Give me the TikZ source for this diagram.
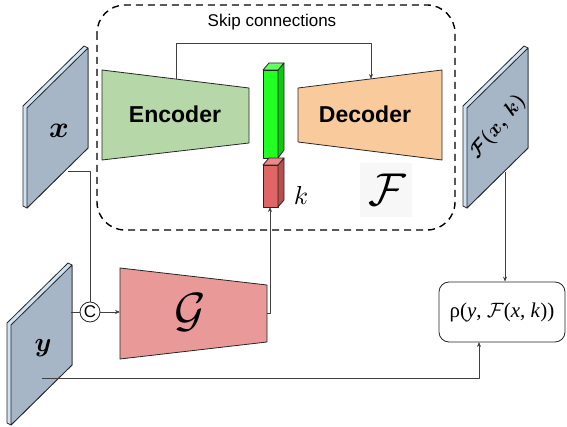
\documentclass[tikz,border=0pt]{standalone}
\usepackage{amsmath}
\usepackage{fontspec}
\setmainfont{Liberation Serif}
\setsansfont{Liberation Sans}
\usetikzlibrary{arrows.meta,calc}
\definecolor{planeface}{HTML}{A6B6C6}
\definecolor{planeside}{HTML}{CFE2F3}
\definecolor{encfill}{HTML}{B6D7A8}
\definecolor{decfill}{HTML}{F9CB9C}
\definecolor{gfill}{HTML}{EA9999}
\definecolor{grfront}{HTML}{22FF22}
\definecolor{grside}{HTML}{11C811}
\definecolor{grtop}{HTML}{66FF66}
\definecolor{rdfront}{HTML}{E06666}
\definecolor{rdside}{HTML}{B84F4F}
\definecolor{rdtop}{HTML}{EE8888}
\newcommand\myplane[2]{%
  \begin{scope}[shift={(#1,#2)}]
    \draw[block,fill=planeside] (-4,-2) -- (57,-62) -- (61,-60) -- (61,40) -- (0,100) -- (-4,98) -- cycle;
    \draw[block,fill=planeface] (0,0) -- (61,-60) -- (61,40) -- (0,100) -- cycle;
  \end{scope}}
\begin{document}
\begin{tikzpicture}[x=1pt,y=-1pt,line join=round,
  conn/.style={draw=black!75,line width=0.8pt},
  arr/.style={-{Stealth[length=5pt,width=4pt]}},
  block/.style={draw=black!85,line width=0.8pt},
  dashbox/.style={draw=black,line width=1.4pt,dash pattern=on 7pt off 5pt,rounded corners=28pt},
  blocklabel/.style={font=\sffamily\bfseries\fontsize{23}{26}\selectfont},
  mathlab/.style={font=\fontsize{10}{12}\selectfont,inner sep=0pt}]
\useasboundingbox (0,0) rectangle (567,427);
% dashed region
\draw[dashbox] (97,5) rectangle (455,230);
% planes
\myplane{27}{108}
\myplane{11}{325}
\myplane{467}{108}
\node[mathlab,scale=3.0] (xlab) at (59,131) {$\boldsymbol{x}$};
\node[mathlab,scale=2.7] (ylab) at (43,348) {$\boldsymbol{y}$};
\node[mathlab,scale=2.0,rotate=50] (flab) at (498,127) {$\boldsymbol{\mathcal{F}(x,\,k)}$};
% encoder / decoder
\draw[block,fill=encfill] (102,70) -- (249,88) -- (249,143) -- (102,160) -- cycle;
\node[blocklabel] (enc) at (175,114) {Encoder};
\draw[block,fill=decfill] (298,88) -- (442,70) -- (442,160) -- (298,142) -- cycle;
\node[blocklabel] (dec) at (365,114) {Decoder};
% latent bars
\draw[block,fill=grfront] (263,70) rectangle (278,158);
\draw[block,fill=grside] (278,70) -- (284,63) -- (284,150) -- (278,158) -- cycle;
\draw[block,fill=grtop] (263,70) -- (269,63) -- (284,63) -- (278,70) -- cycle;
\draw[block,fill=rdfront] (263,165) rectangle (278,207);
\draw[block,fill=rdside] (278,165) -- (284,158) -- (284,200) -- (278,207) -- cycle;
\draw[block,fill=rdtop] (263,165) -- (269,158) -- (284,158) -- (278,165) -- cycle;
\node[mathlab,scale=2.6] (klab) at (301,195) {$k$};
% F symbol
\fill[black!3] (360,163) rectangle (412,217);
\node[mathlab,scale=4.6] (fcal) at (387,190) {$\mathcal{F}$};
% skip connections
\node[font=\sffamily\fontsize{17}{19}\selectfont] (skip) at (272,22) {Skip connections};
\coordinate (encTop) at (176,79);
\coordinate (decTop) at (371,79);
\coordinate (skipL) at (176,43);
\draw[conn,arr] (encTop) -- (skipL) -| (decTop);
% generator
\draw[block,fill=gfill] (120,268) -- (267,285) -- (267,342) -- (120,359) -- cycle;
\node[mathlab,scale=4.8] (glab) at (190,312) {$\mathcal{G}$};
% concat
\node[circle,draw=black!85,line width=0.8pt,minimum size=20pt,inner sep=0pt] (cat) at (90,312) {};
\node[font=\sffamily,inner sep=0pt,scale=1.7] (catlab) at (cat.center) {C};
\coordinate (xout) at (68,171);
\coordinate (yout) at (71,312);
\coordinate (gin) at (120,312);
\coordinate (gout) at (267,313);
\coordinate (kbot) at (270,207);
\draw[conn] (xout) -| (cat.north);
\draw[conn] (yout) -- (cat.west);
\draw[conn,arr] (cat.east) -- (gin);
\draw[conn,arr] (gout) -| (kbot);
% rho box
\node[draw=black!85,line width=0.8pt,rounded corners=10pt,minimum width=126pt,minimum height=60pt,inner sep=0pt] (rho) at (502,312)
  {\fontsize{21}{23}\selectfont ρ(\textit{y}, $\mathcal{F}$(\textit{x}, \textit{k}))};
\coordinate (fout) at (505,172);
\coordinate (ybot) at (42,378);
\coordinate (rhoin) at (479,342);
\draw[conn,arr] (fout) -- (fout |- rho.north);
\draw[conn,arr] (ybot) -| (rhoin);
\end{tikzpicture}
\end{document}
